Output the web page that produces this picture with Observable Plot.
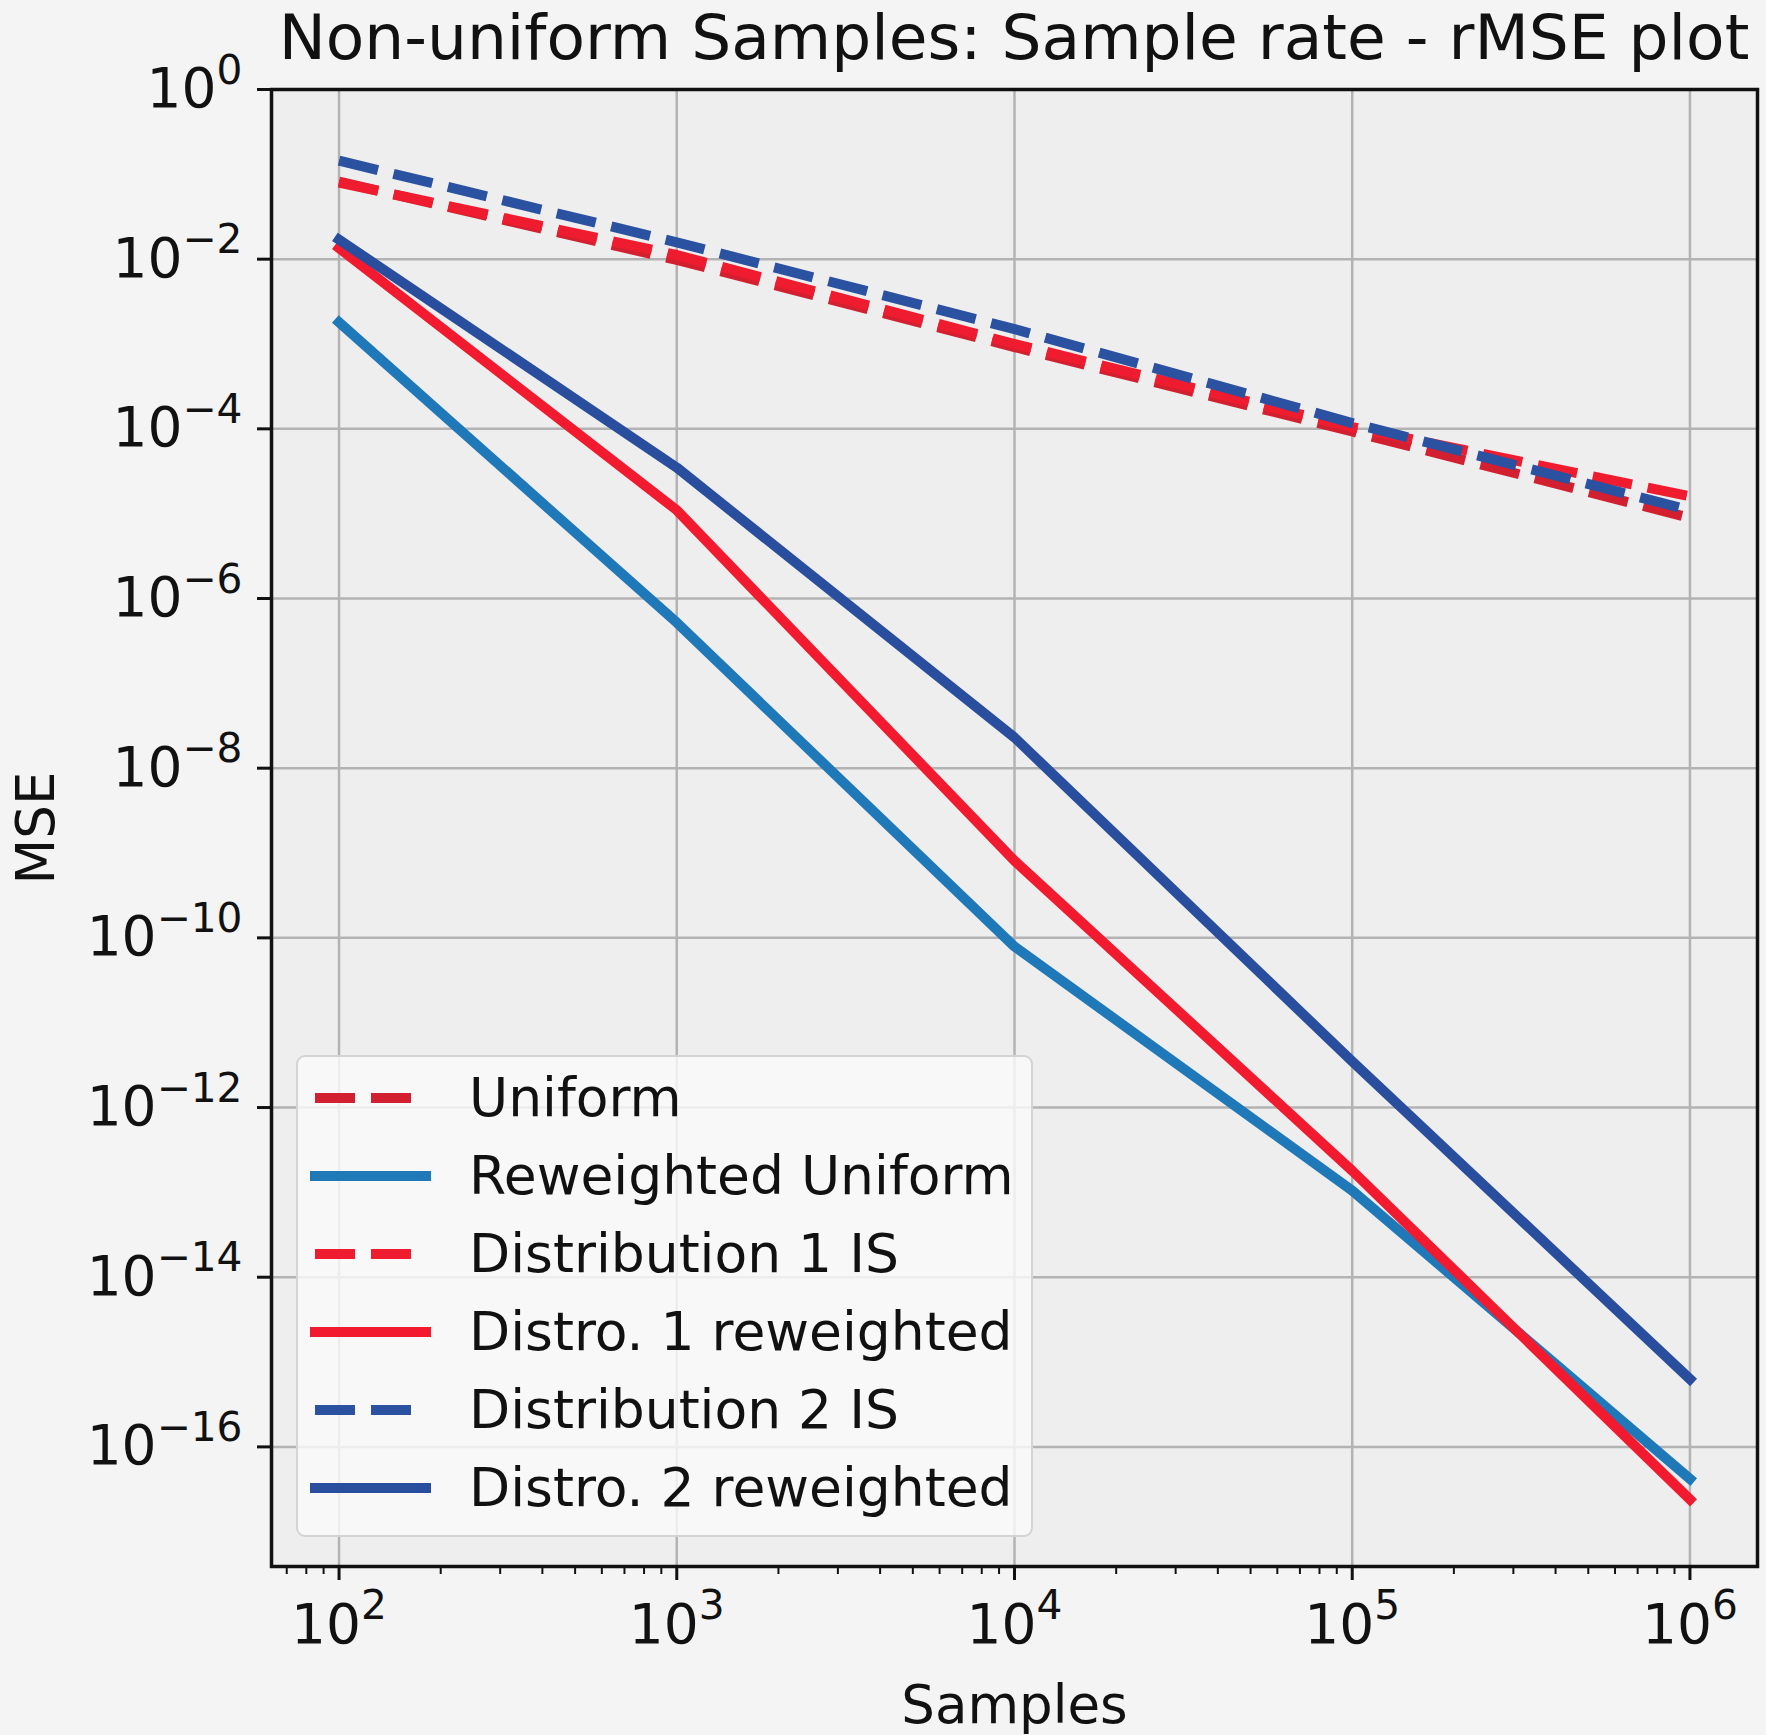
<!DOCTYPE html>
<html>
<head>
<meta charset="utf-8">
<script src="https://cdn.jsdelivr.net/npm/d3@7"></script>
<script src="https://cdn.jsdelivr.net/npm/@observablehq/plot@0.6"></script>
<style>
html, body { margin: 0; padding: 0; background: #f4f4f4; }
#wrap { position: relative; width: 1766px; height: 1735px; font-family: "DejaVu Sans", sans-serif; color: #111; }
#title { position: relative; height: 76px; }
#title span { position: absolute; left: 241px; width: 1546px; top: 1px; text-align: center; font-size: 63px; line-height: normal; white-space: nowrap; }
#legend { position: absolute; left: 296px; top: 1055px; width: 737px; height: 482px; box-sizing: border-box; border: 2px solid #d4d4d4; border-radius: 9px; background: rgba(250,250,250,0.82); }
.item { position: absolute; left: 0; width: 100%; height: 60px; }
.item svg { position: absolute; left: 9px; top: 20px; }
.item span { position: absolute; left: 171px; top: 0; height: 60px; line-height: 60px; font-size: 53.5px; white-space: nowrap; }
</style>
</head>
<body>
<div id="wrap">
  <div id="title"><span>Non-uniform Samples: Sample rate - rMSE plot</span></div>
  <div id="chart"></div>
  <div id="legend"></div>
</div>
<script>
// ---- data ----
const samples = [1e2, 1e3, 1e4, 1e5, 1e6];
const uniform            = [0.082, 0.0098, 9.2e-4, 9.3e-5, 8.9e-6];
const reweightedUniform  = [1.8e-3, 5.2e-7, 7.9e-11, 1.05e-13, 4.2e-17];
const distribution1IS    = [0.080, 0.0112, 1.0e-3, 1.05e-4, 1.6e-5];
const distro1Reweighted  = [1.35e-2, 1.1e-5, 8.1e-10, 1.8e-13, 2.4e-17];
const distribution2IS    = [0.145, 0.0158, 1.5e-3, 1.17e-4, 1.1e-5];
const distro2Reweighted  = [1.7e-2, 3.5e-5, 2.3e-8, 3.5e-12, 6.3e-16];

const seriesNames  = ["Uniform", "Reweighted Uniform", "Distribution 1 IS", "Distro. 1 reweighted", "Distribution 2 IS", "Distro. 2 reweighted"];
const seriesValues = [uniform, reweightedUniform, distribution1IS, distro1Reweighted, distribution2IS, distro2Reweighted];
const seriesColors = ["#d32030", "#1f79b9", "#ee1c2e", "#f21a2e", "#2b51a1", "#2a4e9e"];
const seriesDashed = [true, false, true, false, true, false];

const xTicks = [1e2, 1e3, 1e4, 1e5, 1e6];
const xMinorTicks = [70, 80, 90,
  200, 300, 400, 500, 600, 700, 800, 900,
  2000, 3000, 4000, 5000, 6000, 7000, 8000, 9000,
  20000, 30000, 40000, 50000, 60000, 70000, 80000, 90000,
  200000, 300000, 400000, 500000, 600000, 700000, 800000, 900000];
const yTicks = [1, 1e-2, 1e-4, 1e-6, 1e-8, 1e-10, 1e-12, 1e-14, 1e-16];

const lineWidth = 10;
const dash = "40,16";

// ---- table ----
const rows = [];
seriesNames.forEach((name, i) => {
  samples.forEach((s, j) => rows.push({series: name, samples: s, mse: seriesValues[i][j]}));
});

const fmt = d => {
  const e = Math.round(Math.log10(d));
  return "10^" + (e < 0 ? "\u2212" + (-e) : String(e));
};

const lineMarks = seriesNames.map((name, i) =>
  Plot.line(rows.filter(r => r.series === name), {
    x: "samples", y: "mse",
    stroke: seriesColors[i],
    strokeWidth: lineWidth,
    strokeDasharray: seriesDashed[i] ? dash : null,
    strokeLinecap: seriesDashed[i] ? "butt" : "square",
    strokeLinejoin: "round"
  })
);

const chart = Plot.plot({
  width: 1766,
  height: 1659,
  marginTop: 13,
  marginRight: 9,
  marginBottom: 169,
  marginLeft: 271,
  style: {background: "transparent", fontFamily: "DejaVu Sans", fontSize: "53px", color: "#111", overflow: "visible"},
  x: {type: "log", domain: [10 ** 1.8, 10 ** 6.2]},
  y: {type: "log", domain: [10 ** -17.41, 1]},
  marks: [
    Plot.frame({fill: "#eeeeee", stroke: "none"}),
    Plot.gridX(xTicks, {stroke: "#b3b3b3", strokeOpacity: 1, strokeWidth: 2.5}),
    Plot.gridY(yTicks, {stroke: "#b3b3b3", strokeOpacity: 1, strokeWidth: 2.5}),
    ...lineMarks,
    Plot.frame({stroke: "#111", strokeWidth: 3.5}),
    Plot.axisX(xMinorTicks, {tickSize: 8, strokeWidth: 2, tickFormat: () => "", label: null}),
    Plot.axisX(xTicks, {tickSize: 14, strokeWidth: 3, tickPadding: 23, tickFormat: fmt,
      label: "Samples", labelAnchor: "center", labelArrow: "none", labelOffset: 156}),
    Plot.axisY(yTicks, {tickSize: 14, strokeWidth: 3, tickPadding: 15, tickFormat: fmt,
      label: "MSE", labelAnchor: "center", labelArrow: "none", labelOffset: 255})
  ]
});
chart.style.overflow = "visible";

// render "10^e" tick labels with a real superscript
chart.querySelectorAll("text").forEach(t => {
  const s = t.textContent;
  const m = /^10\^(.+)$/.exec(s);
  if (!m) return;
  t.setAttribute("font-size", 55);
  t.textContent = "10";
  const ts = document.createElementNS("http://www.w3.org/2000/svg", "tspan");
  ts.setAttribute("font-size", "0.74em");
  ts.setAttribute("dy", "-0.58em");
  ts.textContent = m[1];
  t.appendChild(ts);
});
document.getElementById("chart").appendChild(chart);

// ---- legend ----
const legend = document.getElementById("legend");
const NS = "http://www.w3.org/2000/svg";
seriesNames.forEach((name, i) => {
  const item = document.createElement("div");
  item.className = "item";
  item.style.top = (41 + i * 78 - 30) + "px";
  const svg = document.createElementNS(NS, "svg");
  svg.setAttribute("width", 126);
  svg.setAttribute("height", 20);
  const ln = document.createElementNS(NS, "line");
  ln.setAttribute("x1", 8); ln.setAttribute("x2", 119);
  ln.setAttribute("y1", 10); ln.setAttribute("y2", 10);
  ln.setAttribute("stroke", seriesColors[i]);
  ln.setAttribute("stroke-width", lineWidth);
  ln.setAttribute("stroke-linecap", seriesDashed[i] ? "butt" : "square");
  if (seriesDashed[i]) ln.setAttribute("stroke-dasharray", dash);
  svg.appendChild(ln);
  const label = document.createElement("span");
  label.textContent = name;
  item.appendChild(svg);
  item.appendChild(label);
  legend.appendChild(item);
});
</script>
</body>
</html>
